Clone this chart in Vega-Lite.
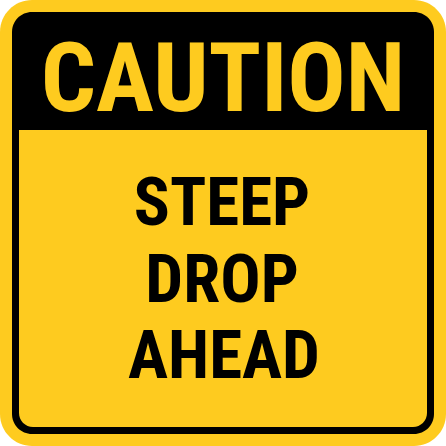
{
  "$schema": "https://vega.github.io/schema/vega-lite/v6.json",
  "width": 446,
  "height": 446,
  "autosize": {"type": "none"},
  "padding": 0,
  "background": "white",
  "config": {"view": {"stroke": null}},
  "datasets": {
    "panels": [
      {"part": "outer", "x0": 0, "x1": 446, "y0": 0, "y1": 446},
      {"part": "border", "x0": 12, "x1": 434, "y0": 12, "y1": 434},
      {"part": "field", "x0": 19, "x1": 427, "y0": 130, "y1": 427}
    ],
    "words": [
      {"line": "header", "text": "CAUTION", "cx": 223, "base": 111},
      {"line": "body", "text": "STEEP", "cx": 222, "base": 225},
      {"line": "body", "text": "DROP", "cx": 222, "base": 302},
      {"line": "body", "text": "AHEAD", "cx": 224, "base": 378}
    ]
  },
  "encoding": {
    "x": {"type": "quantitative", "scale": {"domain": [0, 446], "nice": false, "zero": false}, "axis": null},
    "y": {"type": "quantitative", "scale": {"domain": [0, 446], "nice": false, "zero": false, "reverse": true}, "axis": null}
  },
  "layer": [
    {
      "data": {"name": "panels"},
      "transform": [{"filter": "datum.part == 'outer'"}],
      "mark": {"type": "rect", "cornerRadius": 32, "color": "#FECB1F"},
      "encoding": {"x": {"field": "x0"}, "x2": {"field": "x1"}, "y": {"field": "y0"}, "y2": {"field": "y1"}}
    },
    {
      "data": {"name": "panels"},
      "transform": [{"filter": "datum.part == 'border'"}],
      "mark": {"type": "rect", "cornerRadius": 20, "color": "#000000"},
      "encoding": {"x": {"field": "x0"}, "x2": {"field": "x1"}, "y": {"field": "y0"}, "y2": {"field": "y1"}}
    },
    {
      "data": {"name": "panels"},
      "transform": [{"filter": "datum.part == 'field'"}],
      "mark": {"type": "rect", "cornerRadiusBottomLeft": 14, "cornerRadiusBottomRight": 14, "color": "#FECB1F"},
      "encoding": {"x": {"field": "x0"}, "x2": {"field": "x1"}, "y": {"field": "y0"}, "y2": {"field": "y1"}}
    },
    {
      "data": {"name": "words"},
      "transform": [{"filter": "datum.line == 'header'"}],
      "mark": {"type": "text", "font": "Roboto Condensed", "fontWeight": "bold", "fontSize": 97, "baseline": "alphabetic", "align": "center", "color": "#FECB1F"},
      "encoding": {"x": {"field": "cx"}, "y": {"field": "base"}, "text": {"field": "text"}}
    },
    {
      "data": {"name": "words"},
      "transform": [{"filter": "datum.line == 'body'"}],
      "mark": {"type": "text", "font": "Roboto Condensed", "fontWeight": "bold", "fontSize": 67, "baseline": "alphabetic", "align": "center", "color": "#000000"},
      "encoding": {"x": {"field": "cx"}, "y": {"field": "base"}, "text": {"field": "text"}}
    }
  ]
}
